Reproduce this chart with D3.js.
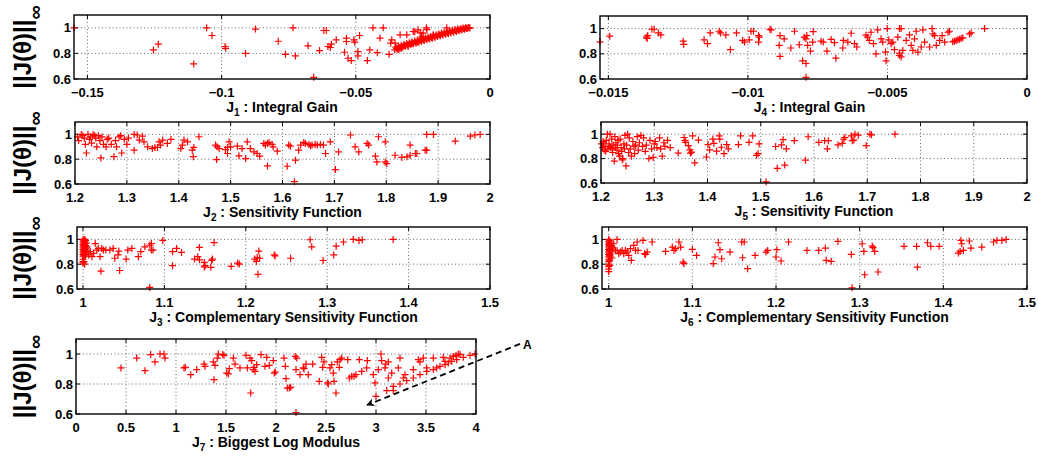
<!DOCTYPE html>
<html><head><meta charset="utf-8">
<script src="https://cdn.jsdelivr.net/npm/d3@7/dist/d3.min.js"></script>
<style>
body{margin:0;background:#fff}
svg{display:block}
text{font-family:"Liberation Sans",Arial,Helvetica,sans-serif;font-weight:bold;fill:#000}
</style>
</head><body>
<svg id="chart" width="1038" height="456"></svg>
<script>
// ---------------- data ----------------
const yTicks = [0.6, 0.8, 1];
const yTickLabels = ["0.6", "0.8", "1"];

const j1Ticks = [-0.15, -0.1, -0.05, 0];
const j1TickLabels = ["\u22120.15", "\u22120.1", "\u22120.05", "0"];
const j4Ticks = [-0.015, -0.01, -0.005, 0];
const j4TickLabels = ["\u22120.015", "\u22120.01", "\u22120.005", "0"];
const sensTicks = [1.2, 1.3, 1.4, 1.5, 1.6, 1.7, 1.8, 1.9, 2];
const sensTickLabels = ["1.2", "1.3", "1.4", "1.5", "1.6", "1.7", "1.8", "1.9", "2"];
const compTicks = [1, 1.1, 1.2, 1.3, 1.4, 1.5];
const compTickLabels = ["1", "1.1", "1.2", "1.3", "1.4", "1.5"];
const logTicks = [0, 0.5, 1, 1.5, 2, 2.5, 3, 3.5, 4];
const logTickLabels = ["0", "0.5", "1", "1.5", "2", "2.5", "3", "3.5", "4"];

const j1Points = [
[-0.155,1.0],[-0.1254,0.827],[-0.1236,0.872],[-0.1104,0.718],[-0.1056,1.0],[-0.1036,0.94],
[-0.0987,0.854],[-0.0985,0.84],[-0.0911,0.80],[-0.0874,0.99],[-0.0789,0.895],[-0.0762,0.793],
[-0.0734,1.0],[-0.0725,0.78],[-0.0678,0.859],[-0.0657,0.613],[-0.0635,0.822],[-0.0619,0.979],
[-0.061,0.979],[-0.0604,0.854],[-0.0591,0.872],[-0.0595,0.846],[-0.0573,0.906],[-0.0535,0.919],
[-0.0535,0.893],[-0.0542,0.809],[-0.0529,0.762],[-0.0517,0.744],[-0.0507,0.906],[-0.0504,0.888],
[-0.0492,0.814],[-0.0492,0.78],[-0.0486,0.94],[-0.0457,0.744],[-0.0448,0.827],[-0.0436,1.0],
[-0.042,0.806],[-0.0398,1.0],[-0.0376,0.793],[-0.041,0.92],[-0.0366,0.906],[-0.037,0.88],
[-0.0354,0.88],[-0.0335,0.945],[-0.031,0.945],[-0.028,0.97],[-0.026,0.96],[-0.0235,0.985],
[-0.0255,0.93],[-0.027,0.89],[-0.033,0.84],[-0.034,0.83],[-0.0305,0.854],[-0.029,0.88],
[-0.0161,1.0],[-0.0237,1.0],[-0.0212,0.945],[-0.0286,0.971],[-0.0268,0.984],[-0.0249,0.958],
[-0.0355,0.828],[-0.0351,0.848],[-0.0348,0.84],[-0.0345,0.835],[-0.0341,0.855],[-0.0338,0.847],
[-0.0335,0.842],[-0.0331,0.862],[-0.0328,0.854],[-0.0325,0.849],[-0.0321,0.869],[-0.0318,0.861],
[-0.0315,0.856],[-0.0311,0.876],[-0.0308,0.868],[-0.0305,0.863],[-0.0301,0.883],[-0.0298,0.875],
[-0.0295,0.870],[-0.0291,0.890],[-0.0288,0.882],[-0.0285,0.876],[-0.0281,0.896],[-0.0278,0.888],
[-0.0275,0.882],[-0.0271,0.902],[-0.0268,0.894],[-0.0265,0.888],[-0.0261,0.908],[-0.0258,0.900],
[-0.0255,0.895],[-0.0251,0.915],[-0.0248,0.907],[-0.0245,0.901],[-0.0241,0.921],[-0.0238,0.913],
[-0.0235,0.907],[-0.0231,0.927],[-0.0228,0.919],[-0.0225,0.913],[-0.0221,0.933],[-0.0218,0.925],
[-0.0215,0.919],[-0.0211,0.939],[-0.0208,0.931],[-0.0205,0.925],[-0.0201,0.945],[-0.0198,0.937],
[-0.0195,0.932],[-0.0191,0.952],[-0.0188,0.944],[-0.0185,0.938],[-0.0181,0.958],[-0.0178,0.95],
[-0.0175,0.944],[-0.0171,0.964],[-0.0168,0.956],[-0.0165,0.950],[-0.0161,0.970],[-0.0158,0.962],
[-0.0155,0.956],[-0.0151,0.976],[-0.0148,0.968],[-0.0145,0.961],[-0.0141,0.981],[-0.0138,0.973],
[-0.0135,0.966],[-0.0131,0.986],[-0.0128,0.978],[-0.0125,0.971],[-0.0121,0.99],[-0.0118,0.983],
[-0.0115,0.976],[-0.0111,0.993],[-0.0108,0.988],[-0.0105,0.983],[-0.0101,0.998],[-0.0098,0.993],
[-0.0095,0.988],[-0.0091,1.0],[-0.0088,0.996],[-0.0085,0.994],[-0.0081,1.002],[-0.0078,0.998],
[-0.0075,1.0]
];

const j4Points = [
[-0.0153,0.895],[-0.01495,0.94],[-0.01364,0.932],[-0.01361,0.922],[-0.01359,0.945],[-0.01344,0.995],
[-0.01336,0.995],[-0.01321,0.966],[-0.01312,0.95],[-0.01232,0.90],[-0.0123,0.875],[-0.01157,0.911],
[-0.01145,0.88],[-0.01135,0.966],[-0.01103,0.979],[-0.01098,0.966],[-0.01079,0.95],[-0.01063,0.833],
[-0.01041,0.966],[-0.01019,0.906],[-0.01012,0.893],[-0.00995,0.911],[-0.00989,0.979],[-0.0098,0.979],
[-0.00962,0.945],[-0.00959,0.932],[-0.00962,0.893],[-0.00921,0.995],[-0.00917,0.99],[-0.00885,0.945],
[-0.00888,0.867],[-0.00885,0.78],[-0.0087,0.919],[-0.00846,0.846],[-0.00833,0.979],[-0.00816,0.872],
[-0.00798,0.932],[-0.00789,0.945],[-0.00792,0.919],[-0.00786,0.867],[-0.00804,0.744],[-0.00792,0.723],
[-0.00792,0.613],[-0.00776,0.822],[-0.00766,0.976],[-0.00768,0.893],[-0.00738,0.90],[-0.0073,0.893],
[-0.00717,0.822],[-0.00702,0.914],[-0.0069,0.888],[-0.00685,0.765],[-0.0066,0.846],[-0.00658,0.906],
[-0.00642,0.893],[-0.0063,0.963],[-0.00618,0.88],[-0.0061,0.854],[-0.00577,0.948],[-0.00571,0.932],
[-0.00565,0.906],[-0.00559,0.971],[-0.0055,0.88],[-0.00541,0.80],[-0.00535,0.99],[-0.00523,0.919],
[-0.00517,0.893],[-0.00507,0.814],[-0.00505,0.744],[-0.00501,1.0],[-0.00495,0.911],[-0.00487,0.88],
[-0.00481,0.893],[-0.00475,0.833],[-0.00463,0.932],[-0.00457,1.0],[-0.00451,1.0],[-0.00457,0.806],
[-0.00457,0.788],[-0.00451,0.775],[-0.00445,0.827],[-0.00433,0.906],[-0.00421,0.95],[-0.00415,0.867],
[-0.00409,0.827],[-0.00403,0.919],[-0.00397,0.979],[-0.00391,0.814],[-0.00379,0.854],[-0.00373,0.99],
[-0.00367,0.893],[-0.00349,0.854],[-0.0034,1.0],[-0.00337,0.958],[-0.00331,0.945],[-0.00325,0.867],
[-0.00313,0.906],[-0.00304,0.945],[-0.00295,0.893],[-0.00283,0.971],[-0.00278,0.979],[-0.00266,0.895],
[-0.0026,0.90],[-0.00254,0.906],[-0.00248,0.911],[-0.00242,0.916],[-0.00236,0.922],[-0.0023,0.927],
[-0.00206,0.958],[-0.002,0.966],[-0.00152,1.0]
];

const j2Points = [
[1.205,0.98],[1.207,0.95],[1.212,1.0],[1.215,0.99],[1.218,0.97],[1.22,0.92],[1.222,0.85],[1.225,1.0],
[1.228,0.96],[1.23,0.98],[1.232,0.93],[1.235,1.0],[1.238,0.99],[1.24,0.97],[1.242,0.9],[1.245,0.99],
[1.248,0.95],[1.25,0.81],[1.252,0.98],[1.255,0.92],[1.26,0.9],[1.262,0.96],[1.265,0.97],[1.27,0.92],
[1.275,0.82],[1.278,0.95],[1.28,0.9],[1.285,0.98],[1.288,0.99],[1.29,0.85],[1.295,0.96],[1.3,0.92],
[1.303,0.97],[1.314,1.0],[1.32,0.995],[1.33,0.986],[1.314,0.873],[1.324,0.954],[1.333,0.94],
[1.34,0.90],[1.349,0.886],[1.354,0.895],[1.362,0.94],[1.365,0.914],[1.369,0.954],[1.359,0.895],
[1.378,0.927],[1.385,0.96],[1.404,0.886],[1.407,0.914],[1.41,0.954],[1.417,0.94],[1.426,0.873],
[1.429,0.895],[1.428,0.82],[1.439,0.981],[1.471,0.914],[1.474,0.90],[1.473,0.797],[1.478,0.886],
[1.49,0.878],[1.494,0.895],[1.494,0.846],[1.497,0.94],[1.5,0.90],[1.513,0.905],[1.516,0.827],
[1.522,0.886],[1.529,0.805],[1.532,0.94],[1.538,0.886],[1.545,0.859],[1.551,0.846],[1.556,0.824],
[1.564,0.927],[1.567,0.914],[1.571,0.927],[1.574,0.935],[1.58,0.919],[1.582,0.90],[1.571,0.746],
[1.59,0.865],[1.609,0.743],[1.612,0.914],[1.615,0.905],[1.625,0.792],[1.623,0.619],[1.631,0.873],
[1.635,0.914],[1.641,0.935],[1.644,0.927],[1.651,0.919],[1.654,0.908],[1.657,0.914],[1.663,0.919],
[1.667,0.914],[1.673,0.919],[1.679,0.914],[1.692,0.94],[1.683,0.846],[1.702,0.716],[1.708,0.859],
[1.731,0.995],[1.74,0.90],[1.747,0.859],[1.763,0.927],[1.766,0.914],[1.779,0.824],[1.782,0.778],
[1.785,0.981],[1.798,0.94],[1.798,0.778],[1.801,0.765],[1.817,0.832],[1.83,0.814],[1.84,0.819],
[1.846,0.914],[1.846,0.832],[1.856,0.846],[1.859,0.846],[1.875,0.873],[1.878,0.873],[1.878,1.0],
[1.891,1.0],[1.933,0.946],[1.962,0.986],[1.971,0.995],[1.981,1.0]
];

const j5Points = [
[1.201,0.92],[1.203,0.89],[1.205,0.93],[1.206,0.87],[1.208,0.9],[1.21,0.95],[1.212,1.0],[1.213,0.88],
[1.215,0.92],[1.217,1.0],[1.218,0.89],[1.22,0.96],[1.222,0.85],[1.223,0.91],[1.225,0.78],[1.226,0.98],
[1.228,0.93],[1.23,0.87],[1.231,0.91],[1.233,0.84],[1.235,0.82],[1.236,0.96],[1.238,0.89],[1.24,0.79],
[1.241,0.8],[1.243,0.92],[1.245,0.99],[1.247,0.74],[1.248,0.91],[1.25,1.0],[1.252,0.85],[1.253,0.97],
[1.255,0.88],[1.257,0.82],[1.26,0.94],[1.262,0.9],[1.263,0.84],[1.265,0.91],[1.268,0.98],[1.27,0.87],
[1.272,0.93],[1.275,0.99],[1.278,0.9],[1.28,0.97],[1.283,0.86],[1.285,0.91],[1.29,0.8],[1.292,0.95],
[1.295,0.88],[1.298,0.81],[1.3,0.92],[1.302,0.94],[1.305,0.89],[1.31,0.97],[1.312,0.88],[1.315,0.82],
[1.318,0.93],[1.32,0.9],[1.325,0.95],[1.33,0.89],[1.345,0.845],[1.356,0.973],[1.358,0.947],
[1.359,0.933],[1.364,0.907],[1.367,0.872],[1.368,0.845],[1.37,0.853],[1.372,0.987],[1.376,0.765],
[1.383,0.952],[1.398,0.813],[1.401,0.915],[1.404,0.872],[1.41,0.96],[1.412,0.925],[1.417,0.861],
[1.422,0.987],[1.423,0.96],[1.426,0.893],[1.431,0.84],[1.436,0.915],[1.439,0.88],[1.458,0.915],
[1.462,0.987],[1.478,0.933],[1.485,0.987],[1.497,0.92],[1.492,0.827],[1.495,0.84],[1.528,0.899],
[1.531,0.72],[1.539,0.912],[1.542,0.955],[1.545,0.747],[1.548,0.88],[1.563,0.947],[1.584,0.787],
[1.589,0.979],[1.609,0.933],[1.62,0.947],[1.625,0.88],[1.627,0.947],[1.645,0.912],[1.653,0.925],
[1.656,0.96],[1.658,0.973],[1.67,0.987],[1.675,0.952],[1.672,0.947],[1.677,1.0],[1.683,0.992],
[1.698,0.907],[1.705,1.0],[1.708,0.995],[1.752,1.0],[1.51,0.61],
[1.204,0.94],[1.209,0.86],[1.216,0.9],[1.221,0.88],[1.227,0.89],[1.232,0.95],[1.239,0.86],[1.244,0.88]
];

const j3Points = [
[1.0,1.0],[1.0,0.98],[1.0,0.96],[1.0,0.94],[1.0,0.92],[1.0,0.9],[1.0,0.88],[1.0,0.86],[1.0,0.84],
[1.001,0.99],[1.001,0.97],[1.001,0.95],[1.001,0.93],[1.001,0.91],[1.001,0.89],[1.001,0.87],[1.001,0.82],
[1.002,1.0],[1.002,0.98],[1.002,0.96],[1.002,0.94],[1.002,0.92],[1.002,0.9],[1.002,0.88],[1.002,0.8],
[1.003,0.99],[1.003,0.95],[1.003,0.91],[1.003,0.86],[1.004,0.97],[1.004,0.93],[1.004,0.89],[1.0,0.82],
[1.0,0.81],[1.004,0.914],[1.005,0.94],[1.007,0.875],[1.009,0.901],[1.011,0.861],[1.013,0.888],
[1.015,0.966],[1.017,0.914],[1.019,0.927],[1.021,0.861],[1.023,0.927],[1.025,0.914],[1.028,0.914],
[1.033,0.914],[1.037,0.927],[1.022,0.744],[1.039,0.848],[1.043,0.875],[1.044,0.906],[1.045,0.749],
[1.053,0.841],[1.055,0.914],[1.06,0.927],[1.068,0.861],[1.071,0.901],[1.076,0.94],[1.082,0.953],
[1.084,0.914],[1.082,0.613],[1.086,0.914],[1.084,0.966],[1.098,0.992],[1.11,0.901],[1.11,0.788],
[1.115,0.927],[1.121,0.895],[1.137,0.841],[1.141,0.861],[1.143,0.935],[1.143,0.835],[1.149,0.814],
[1.149,0.778],[1.15,0.788],[1.157,0.775],[1.158,0.83],[1.159,0.841],[1.161,0.974],[1.182,0.783],
[1.19,0.809],[1.192,0.801],[1.211,0.841],[1.213,0.822],[1.214,0.854],[1.216,0.906],[1.217,0.848],
[1.215,0.718],[1.235,0.875],[1.236,0.867],[1.255,0.848],[1.279,0.997],[1.281,0.94],[1.295,0.83],
[1.308,0.875],[1.311,0.945],[1.32,0.979],[1.332,1.0],[1.339,0.992],[1.343,0.997],[1.381,1.0]
];

const j6Points = [
[1.0,1.0],[1.0,0.98],[1.0,0.96],[1.0,0.94],[1.0,0.92],[1.0,0.9],[1.0,0.88],[1.0,0.86],[1.0,0.84],
[1.0,0.82],[1.0,0.8],[1.0,0.78],[1.0,0.76],[1.0,0.74],[1.001,0.99],[1.001,0.97],[1.001,0.95],
[1.001,0.93],[1.001,0.91],[1.001,0.89],[1.001,0.87],[1.001,0.85],[1.001,0.83],[1.001,0.79],
[1.002,0.97],[1.002,0.92],[1.002,0.88],[1.002,0.86],[1.003,0.95],[1.003,0.9],[1.004,0.93],[1.004,0.85],
[1.004,0.938],[1.006,0.965],[1.008,0.911],[1.01,1.0],[1.01,0.911],[1.012,0.885],[1.014,0.898],
[1.016,0.911],[1.018,0.885],[1.02,0.911],[1.022,0.898],[1.024,0.871],[1.026,0.925],[1.027,0.831],
[1.03,0.952],[1.032,0.911],[1.034,0.979],[1.035,0.911],[1.041,0.992],[1.043,0.885],[1.044,0.879],
[1.046,0.898],[1.052,0.979],[1.068,0.903],[1.076,0.938],[1.078,0.911],[1.08,0.925],[1.084,0.979],
[1.086,0.938],[1.089,0.817],[1.09,0.804],[1.1,0.919],[1.105,0.871],[1.125,0.804],[1.127,0.858],
[1.131,0.973],[1.133,0.917],[1.135,0.844],[1.145,0.898],[1.159,0.979],[1.16,0.852],[1.162,0.979],
[1.166,0.764],[1.175,0.871],[1.188,0.898],[1.19,0.911],[1.2,0.858],[1.201,0.917],[1.206,0.826],
[1.215,0.979],[1.237,0.911],[1.251,0.911],[1.259,0.93],[1.26,0.831],[1.266,0.823],[1.274,0.984],
[1.29,0.879],[1.291,0.61],[1.303,0.965],[1.305,0.903],[1.306,0.715],[1.315,0.946],[1.316,0.933],
[1.318,0.903],[1.322,0.737],[1.353,0.944],[1.368,0.944],[1.369,0.777],[1.381,0.973],[1.385,0.944],
[1.395,0.944],[1.418,0.89],[1.42,0.903],[1.421,0.992],[1.422,0.965],[1.424,0.911],[1.431,0.987],
[1.433,0.93],[1.446,0.938],[1.46,0.979],[1.464,0.992],[1.47,0.992],[1.475,1.0]
];

const j7Points = [
[0.45,0.907],[0.607,0.973],[0.69,0.889],[0.747,0.996],[0.79,0.947],[0.84,1.0],[0.88,1.0],[0.89,0.973],
[1.08,0.907],[1.093,0.911],[1.147,0.862],[1.207,0.896],[1.28,0.933],[1.29,0.918],[1.373,0.947],
[1.39,0.924],[1.38,0.829],[1.423,1.0],[1.413,0.973],[1.467,0.996],[1.48,0.991],[1.507,0.873],
[1.523,0.867],[1.533,0.902],[1.573,0.973],[1.59,0.933],[1.64,0.907],[1.7,0.991],[1.713,0.907],
[1.74,0.973],[1.747,0.74],[1.757,0.956],[1.773,0.896],[1.78,0.911],[1.79,0.884],[1.807,0.929],
[1.85,0.996],[1.89,0.918],[1.907,0.978],[1.933,0.924],[1.973,0.956],[1.983,0.873],[1.993,0.88],
[2.08,0.973],[2.093,0.918],[2.1,0.836],[2.113,0.773],[2.133,0.773],[2.147,0.778],[2.193,0.984],
[2.207,0.973],[2.2,0.896],[2.24,0.862],[2.273,0.907],[2.28,0.902],[2.3,0.933],[2.323,0.862],
[2.367,0.933],[2.433,0.818],[2.457,0.978],[2.467,0.911],[2.48,0.947],[2.517,0.807],[2.523,0.8],
[2.54,0.907],[2.557,0.929],[2.573,0.873],[2.58,0.818],[2.6,0.74],[2.613,0.947],[2.633,0.911],
[2.64,0.962],[2.657,0.973],[2.717,0.962],[2.733,0.84],[2.757,0.851],[2.78,0.851],[2.8,0.862],
[2.833,0.962],[2.857,0.884],[2.907,0.907],[2.913,0.956],[2.973,0.862],[2.99,0.807],[3.05,1.0],
[3.057,0.956],[3.09,0.907],[3.097,0.933],[3.123,0.947],[3.123,0.84],[3.023,0.896],[3.157,0.873],
[3.173,0.756],[3.24,0.973],[3.223,0.907],[3.273,0.84],[3.29,0.862],[2.2,0.61],
[3.0,0.718],[3.107,0.756],[3.173,0.784],[3.24,0.8],[3.307,0.822],[3.373,0.84],[3.44,0.862],
[3.507,0.884],[3.573,0.896],[3.607,0.907],[3.64,0.918],[3.69,0.929],[3.723,0.94],[3.757,0.951],
[3.807,0.962],[3.873,0.978],[3.94,0.991],[3.99,1.0],
[3.373,0.896],[3.423,0.962],[3.44,0.947],[3.473,0.973],[3.507,0.907],[3.573,0.973],[3.673,0.978],
[3.69,0.951],[3.74,0.973],[3.773,0.984],[3.8,0.991],[3.823,1.0],[3.84,0.996]
];

// annotation "A" arrow in J7 data units: [start, end]
const arrowA = [[4.44, 1.067], [2.91, 0.66]];
const arrowLabel = {text: "A", at: [4.47, 1.06]};

// ---------------- layout ----------------
const panels = [
  {pts: j1Points, xd: [-0.155, 0], xt: j1Ticks, xl: j1TickLabels, sub: "1", title: " : Integral Gain", box: [74, 15, 490, 79], ylab: true},
  {pts: j4Points, xd: [-0.0153, 0], xt: j4Ticks, xl: j4TickLabels, sub: "4", title: " : Integral Gain", box: [600, 16, 1027, 79], ylab: false, tdx: -4},
  {pts: j2Points, xd: [1.2, 2], xt: sensTicks, xl: sensTickLabels, sub: "2", title: " : Sensitivity Function", box: [75, 122, 490, 184], ylab: true},
  {pts: j5Points, xd: [1.2, 2], xt: sensTicks, xl: sensTickLabels, sub: "5", title: " : Sensitivity Function", box: [601, 122, 1027, 183], ylab: false},
  {pts: j3Points, xd: [0.9926, 1.5], xt: compTicks, xl: compTickLabels, sub: "3", title: " : Complementary Sensitivity Function", box: [77, 227, 490, 289], ylab: true},
  {pts: j6Points, xd: [0.992, 1.5], xt: compTicks, xl: compTickLabels, sub: "6", title: " : Complementary Sensitivity Function", box: [602, 227, 1027, 289], ylab: false},
  {pts: j7Points, xd: [0, 4], xt: logTicks, xl: logTickLabels, sub: "7", title: " : Biggest Log Modulus", box: [76, 339, 476, 414], ylab: true, arrow: true}
];

const svg = d3.select("#chart");
const defs = svg.append("defs");
defs.append("marker").attr("id", "ah").attr("viewBox", "0 0 10 10").attr("refX", 9).attr("refY", 5)
  .attr("markerWidth", 10).attr("markerHeight", 8).attr("markerUnits", "userSpaceOnUse").attr("orient", "auto")
  .append("path").attr("d", "M0,0 L10,5 L0,10 L3,5 Z").attr("fill", "#000");

const plus = "M-3.5,0H3.5M0,-3.5V3.5";

panels.forEach(p => {
  const [x0, y0, x1, y1] = p.box;
  const x = d3.scaleLinear().domain(p.xd).range([x0, x1]);
  const y = d3.scaleLinear().domain([0.6, 1.1]).range([y1, y0]);
  const g = svg.append("g");

  // grid
  g.selectAll(".gx").data(p.xt.filter(v => Math.abs(x(v) - x1) > 1 && Math.abs(x(v) - x0) > 1)).enter().append("line")
    .attr("x1", d => x(d)).attr("x2", d => x(d)).attr("y1", y0).attr("y2", y1)
    .attr("stroke", "#444").attr("stroke-width", 0.8).attr("stroke-dasharray", "1,2.5");
  g.selectAll(".gy").data(yTicks.filter(v => v > 0.6)).enter().append("line")
    .attr("x1", x0).attr("x2", x1).attr("y1", d => y(d)).attr("y2", d => y(d))
    .attr("stroke", "#444").attr("stroke-width", 0.8).attr("stroke-dasharray", "1,2.5");

  // ticks inside
  p.xt.forEach(v => {
    g.append("line").attr("x1", x(v)).attr("x2", x(v)).attr("y1", y1).attr("y2", y1 - 4).attr("stroke", "#000");
    g.append("line").attr("x1", x(v)).attr("x2", x(v)).attr("y1", y0).attr("y2", y0 + 4).attr("stroke", "#000");
  });
  yTicks.forEach(v => {
    g.append("line").attr("x1", x0).attr("x2", x0 + 4).attr("y1", y(v)).attr("y2", y(v)).attr("stroke", "#000");
    g.append("line").attr("x1", x1).attr("x2", x1 - 4).attr("y1", y(v)).attr("y2", y(v)).attr("stroke", "#000");
  });

  // points
  g.selectAll(".pt").data(p.pts).enter().append("path")
    .attr("d", plus).attr("transform", d => `translate(${x(d[0])},${y(d[1])})`)
    .attr("stroke", "#ff0000").attr("stroke-width", 1.2).attr("fill", "none");

  // box
  g.append("rect").attr("x", x0).attr("y", y0).attr("width", x1 - x0).attr("height", y1 - y0)
    .attr("fill", "none").attr("stroke", "#000").attr("stroke-width", 1.4);

  // tick labels
  g.selectAll(".xl").data(p.xt).enter().append("text")
    .attr("x", d => x(d)).attr("y", y1 + 17.5).attr("text-anchor", "middle")
    .style("font-size", "13px").text((d, i) => p.xl[i]);
  g.selectAll(".yl").data(yTicks).enter().append("text")
    .attr("x", x0 - 3).attr("y", d => y(d)).attr("dy", "0.36em").attr("text-anchor", "end")
    .style("font-size", "13px").text((d, i) => yTickLabels[i]);

  // axis title
  const t = g.append("text").attr("x", (x0 + x1) / 2 + (p.tdx || 0)).attr("y", y1 + 32.5).attr("text-anchor", "middle").style("font-size", "14px");
  t.append("tspan").text("J");
  t.append("tspan").attr("dy", 4).style("font-size", "10px").text(p.sub);
  t.append("tspan").attr("dy", -4).text(p.title);

  // y label
  if (p.ylab) {
    const cy = (y0 + y1) / 2;
    const yl = g.append("text").attr("transform", `translate(31,${cy}) rotate(-90)`)
      .attr("text-anchor", "middle").style("font-size", "24px");
    yl.append("tspan").text("||J(\u03B8)||");
    yl.append("tspan").attr("dy", 11).style("font-size", "20px").text("\u221E");
  }

  if (p.arrow) {
    g.append("line")
      .attr("x1", x(arrowA[0][0])).attr("y1", y(arrowA[0][1]))
      .attr("x2", x(arrowA[1][0])).attr("y2", y(arrowA[1][1]))
      .attr("stroke", "#000").attr("stroke-width", 1.8).attr("stroke-dasharray", "6,4")
      .attr("marker-end", "url(#ah)");
    g.append("text").attr("x", x(arrowLabel.at[0])).attr("y", y(arrowLabel.at[1]) + 4)
      .style("font-size", "12px").text(arrowLabel.text);
  }
});
</script>
</body></html>
